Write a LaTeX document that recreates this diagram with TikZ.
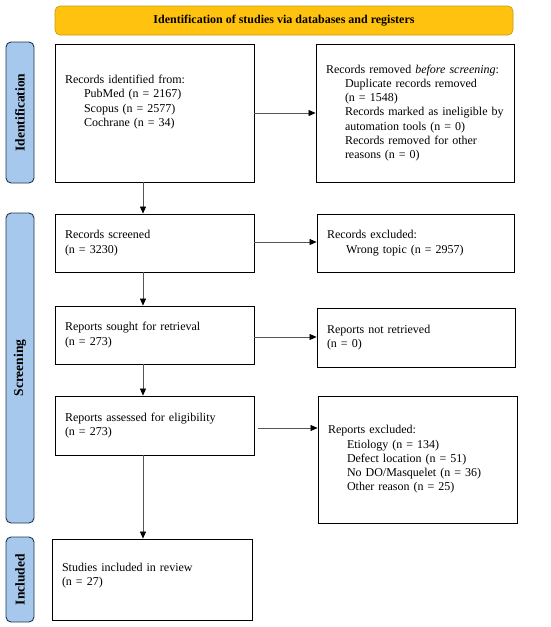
\documentclass[tikz,border=0pt]{standalone}
\usepackage{fontspec}
\setmainfont{Liberation Serif}
\usetikzlibrary{arrows.meta}
\definecolor{bannerfill}{HTML}{FFC20E}
\definecolor{bannerdraw}{HTML}{C99A10}
\definecolor{sidefill}{HTML}{A6C8EC}
\definecolor{sidedraw}{HTML}{1F3550}
\definecolor{arrline}{HTML}{555555}
\begin{document}
\begin{tikzpicture}[x=1pt,y=-1pt,
  every node/.style={font=\fontsize{12}{14.3}\selectfont},
  box/.style={draw=black,line width=0.9pt,inner xsep=10pt,inner ysep=0pt,align=left,
    text width=#1-20pt,minimum width=#1},
  banner/.style={draw=bannerdraw,fill=bannerfill,rounded corners=5pt,line width=0.6pt,
    font=\bfseries\fontsize{12}{14}\selectfont},
  side/.style={draw=sidedraw,fill=sidefill,rounded corners=5pt,line width=0.9pt,rotate=90,
    font=\bfseries\fontsize{13.5}{15}\selectfont,minimum height=28pt,inner sep=0pt},
  arr/.style={draw=arrline,line width=0.6pt,-{Triangle[length=7pt,width=6pt,fill=black,color=black]}}
]
\useasboundingbox (0,0) rectangle (550,627);

\node[banner,minimum width=458pt,minimum height=29pt] (ban) at (284,20.5) {Identification of studies via databases and registers};

\node[side,minimum width=141pt] (sid) at (20,112.5) {Identification};
\node[side,minimum width=310pt] (sscr) at (20,368) {Screening};
\node[side,minimum width=85pt] (sinc) at (20,579.5) {Included};

\node[box=199pt,minimum height=138pt] (b1) at (154.5,113) {Records identified from:\\
\hspace*{19pt}PubMed (n = 2167)\\
\hspace*{19pt}Scopus (n = 2577)\\
\hspace*{19pt}Cochrane (n = 34)\\[10pt]\mbox{}};

\node[box=198pt,minimum height=138pt] (b2) at (415,113) {Records removed \textit{before screening}:\\
\hspace*{19pt}Duplicate records removed\\
\hspace*{19pt}(n = 1548)\\
\hspace*{19pt}Records marked as ineligible by\\
\hspace*{19pt}automation tools (n = 0)\\
\hspace*{19pt}Records removed for other\\
\hspace*{19pt}reasons (n = 0)};

\node[box=199pt,minimum height=58pt] (b3) at (154.5,243) {Records screened\\(n = 3230)};
\node[box=197pt,minimum height=58pt] (b4) at (415.5,243) {Records excluded:\\
\hspace*{19pt}Wrong topic (n = 2957)};

\node[box=199pt,minimum height=58pt] (b5) at (154.5,335) {Reports sought for retrieval\\(n = 273)};
\node[box=198pt,minimum height=59pt] (b6) at (416,337.5) {Reports not retrieved\\(n = 0)};

\node[box=199pt,minimum height=59pt] (b7) at (154.5,425.5) {Reports assessed for eligibility\\(n = 273)};
\node[box=199pt,minimum height=127pt] (b8) at (417.5,459.5) {Reports excluded:\\
\hspace*{19pt}Etiology (n = 134)\\
\hspace*{19pt}Defect location (n = 51)\\
\hspace*{19pt}No DO/Masquelet (n = 36)\\
\hspace*{19pt}Other reason (n = 25)};

\node[box=200pt,minimum height=81pt] (b9) at (152,579.5) {Studies included in review\\(n = 27)\\[-4pt]\mbox{}};

\coordinate (vx) at (143,0);
\draw[arr] (b1.south -| vx) -- (b3.north -| vx);
\draw[arr] (b3.south -| vx) -- (b5.north -| vx);
\draw[arr] (b5.south -| vx) -- (b7.north -| vx);
\draw[arr] (b7.south -| vx) -- (b9.north -| vx);

\draw[arr] (b1.east) -- (b2.west |- b1.east);
\draw[arr] ([yshift=1pt]b3.east) -- ([yshift=1pt]b3.east -| b4.west);
\draw[arr] ([yshift=-2pt]b5.east) -- ([yshift=-2pt]b5.east -| b6.west);
\draw[arr,shorten <=4pt] ([yshift=-2.5pt]b7.east) -- ([yshift=-2.5pt]b7.east -| b8.west);
\end{tikzpicture}
\end{document}
